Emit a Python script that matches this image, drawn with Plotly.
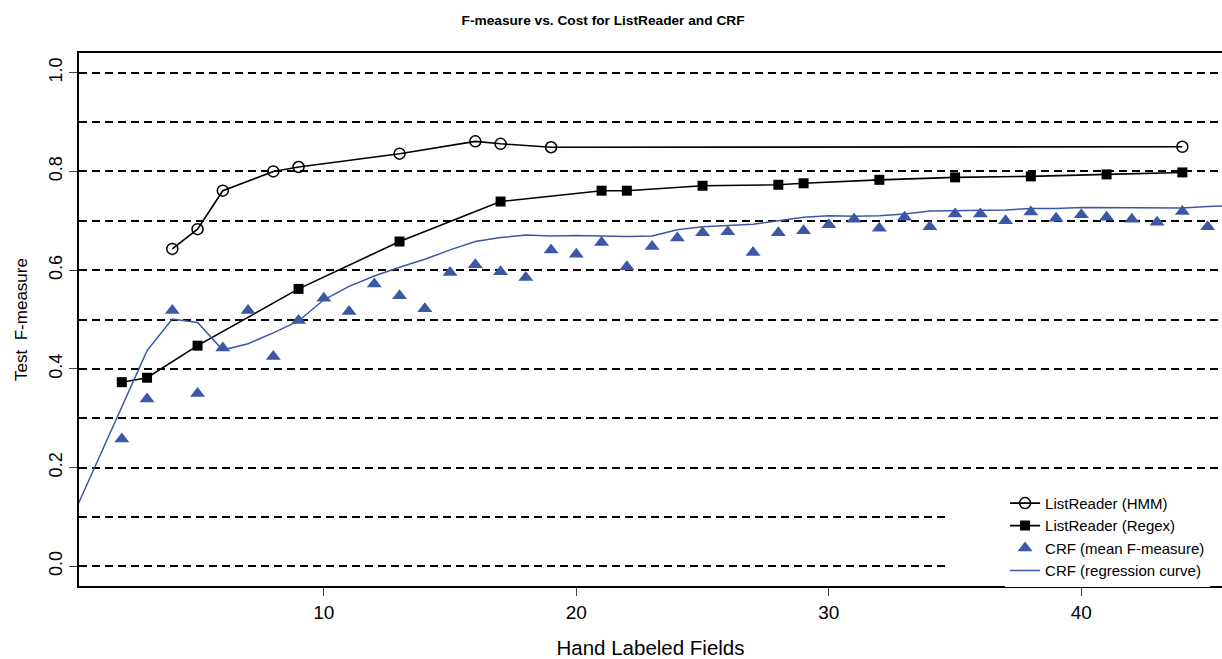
import plotly.graph_objects as go

# ---- data ----
hmm_x = [4, 5, 6, 8, 9, 13, 16, 17, 19, 44]
hmm_y = [0.643, 0.683, 0.761, 0.800, 0.809, 0.836, 0.861, 0.856, 0.849, 0.850]

regex_x = [2, 3, 5, 9, 13, 17, 21, 22, 25, 28, 29, 32, 35, 38, 41, 44]
regex_y = [0.373, 0.382, 0.447, 0.562, 0.658, 0.739, 0.761, 0.761, 0.771,
           0.773, 0.776, 0.783, 0.788, 0.790, 0.794, 0.798]

crf_x = list(range(2, 46))
crf_y = [0.258, 0.339, 0.518, 0.350, 0.442, 0.518, 0.425, 0.498, 0.543, 0.516,
         0.572, 0.548, 0.522, 0.595, 0.611, 0.597, 0.585, 0.641, 0.632, 0.656,
         0.607, 0.648, 0.665, 0.676, 0.678, 0.636, 0.676, 0.680, 0.692, 0.703,
         0.685, 0.707, 0.688, 0.714, 0.714, 0.700, 0.718, 0.705, 0.712, 0.707,
         0.703, 0.697, 0.719, 0.688]

reg_x = list(range(0, 47))
reg_y = [0.095, 0.210, 0.325, 0.437, 0.501, 0.494, 0.438, 0.451, 0.473, 0.497,
         0.540, 0.567, 0.588, 0.606, 0.622, 0.641, 0.658, 0.666, 0.671, 0.669,
         0.670, 0.669, 0.668, 0.669, 0.682, 0.688, 0.690, 0.693, 0.700, 0.707,
         0.710, 0.709, 0.710, 0.714, 0.720, 0.721, 0.721, 0.722, 0.725, 0.725,
         0.727, 0.727, 0.727, 0.726, 0.726, 0.729, 0.731]

x_ticks = [10, 20, 30, 40]
y_ticks = [0.0, 0.2, 0.4, 0.6, 0.8, 1.0]
y_ticktext = ["0.0", "0.2", "0.4", "0.6", "0.8", "1.0"]

BLUE = "#3B57A6"
FONT = "Liberation Sans, Arial, sans-serif"

fig = go.Figure()
fig.add_trace(go.Scatter(x=hmm_x, y=hmm_y, mode="lines+markers", name="ListReader (HMM)",
                         line=dict(color="black", width=1.6),
                         marker=dict(symbol="circle-open", size=11, color="black",
                                     line=dict(width=1.5, color="black"))))
fig.add_trace(go.Scatter(x=regex_x, y=regex_y, mode="lines+markers", name="ListReader (Regex)",
                         line=dict(color="black", width=1.6),
                         marker=dict(symbol="square", size=10, color="black")))
fig.add_trace(go.Scatter(x=crf_x, y=crf_y, mode="markers", name="CRF (mean F-measure)",
                         marker=dict(symbol="triangle-up", size=13, color=BLUE)))
fig.add_trace(go.Scatter(x=reg_x, y=reg_y, mode="lines", name="CRF (regression curve)",
                         line=dict(color=BLUE, width=1.5)))

# white legend background area (as in the reference, it hides the grid behind the legend)
fig.add_shape(type="rect", xref="paper", yref="paper", x0=0.762, x1=1.0, y0=0.0, y1=0.171,
              fillcolor="white", line=dict(width=0), layer="above")

grid_style = dict(showgrid=True, gridcolor="black", gridwidth=1.5, griddash="8px,5px")

fig.update_layout(
    width=1222, height=659,
    margin=dict(l=79, r=0, t=53, b=73),
    paper_bgcolor="white", plot_bgcolor="white",
    font=dict(family=FONT, color="black"),
    title=dict(text="<b>F-measure vs. Cost for ListReader and CRF</b>",
               font=dict(size=13.7, family=FONT, color="black"),
               x=0.4935, xref="container", xanchor="center",
               y=1 - 20 / 659, yref="container", yanchor="middle"),
    showlegend=True,
    legend=dict(x=0.8102, xanchor="left", y=0.186, yanchor="top",
                bgcolor="white", borderwidth=0,
                font=dict(size=15, family=FONT, color="black"),
                tracegroupgap=0, itemwidth=30),
    xaxis=dict(range=[0.305, 45.57], tickvals=x_ticks, ticks="outside", ticklen=8,
               tickwidth=1, tickcolor="#444", showline=True, linewidth=2, linecolor="black",
               mirror=True, showgrid=False, zeroline=False,
               tickfont=dict(size=19, family=FONT),
               title=dict(text="Hand Labeled Fields", font=dict(size=20.5, family=FONT),
                          standoff=19)),
    yaxis=dict(range=[-0.04, 1.04], tickvals=y_ticks, ticktext=y_ticktext, tickangle=-90,
               ticks="outside", ticklen=8, tickwidth=1, tickcolor="#444",
               showline=True, linewidth=2, linecolor="black", zeroline=False,
               tickfont=dict(size=18, family=FONT), ticklabelstandoff=0,
               minor=dict(dtick=0.1, tick0=0, ticks="", **grid_style),
               title=dict(text="Test  F-measure", font=dict(size=17, family=FONT),
                          standoff=14),
               **grid_style),
)

fig.write_html("out.html")
